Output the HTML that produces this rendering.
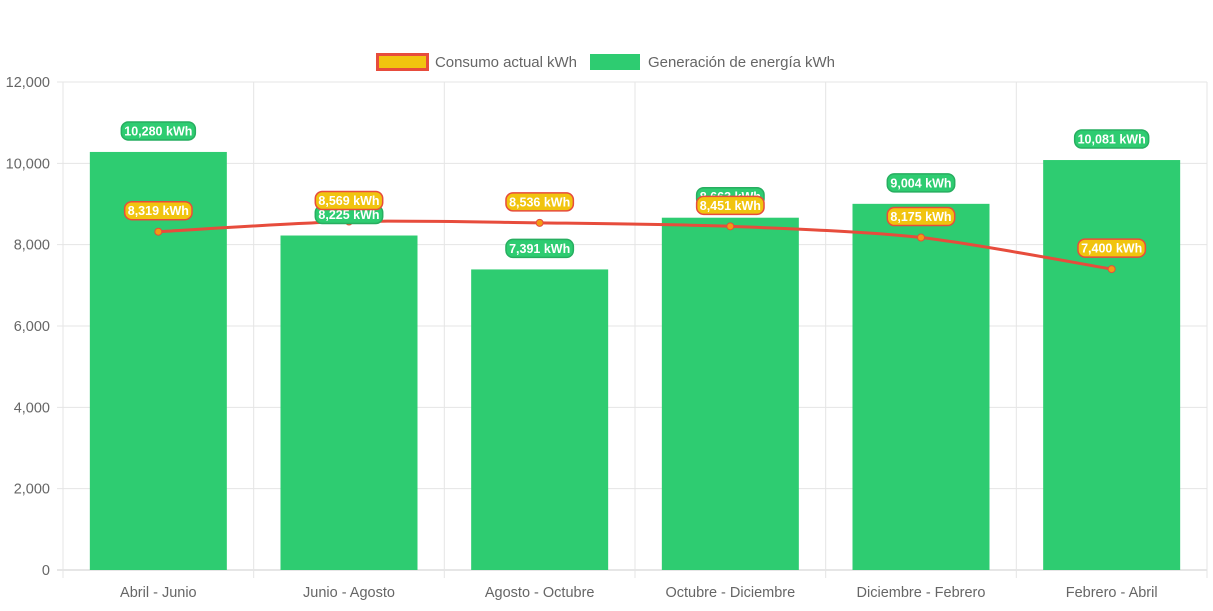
<!DOCTYPE html>
<html><head><meta charset="utf-8"><style>
body{margin:0;background:#fff;font-family:"Liberation Sans",Arial,sans-serif}
svg text{font-family:"Liberation Sans",Arial,sans-serif}
</style></head><body>
<svg id="c" width="1213" height="606"></svg>
<script>
const categories=["Abril - Junio","Junio - Agosto","Agosto - Octubre","Octubre - Diciembre","Diciembre - Febrero","Febrero - Abril"];
const generation=[10280,8225,7391,8663,9004,10081];
const consumption=[8319,8569,8536,8451,8175,7400];
const yTicks=[0,2000,4000,6000,8000,10000,12000];
const NS="http://www.w3.org/2000/svg";
const svg=document.getElementById('c');
const L=63,R=1207,T=82,B=570,yMax=12000;
const bw=(R-L)/categories.length;
const x=i=>L+bw*(i+0.5);
const y=v=>B-(v/yMax)*(B-T);
const fmt=v=>v.toLocaleString('en-US');
function el(t,a,p){const e=document.createElementNS(NS,t);for(const k in a)e.setAttribute(k,a[k]);(p||svg).appendChild(e);return e;}
yTicks.forEach(t=>{
 const g=el('line',{x1:L-6,x2:R,y1:y(t),y2:y(t),stroke:t===0?'#ccc':'#e5e5e5','stroke-width':1});
 
 
 const tx=el('text',{x:50,y:y(t)+5,'text-anchor':'end','font-size':14.5,fill:'#666'});tx.textContent=fmt(t);
 
 
});
for(let i=0;i<=categories.length;i++){
 const g=el('line',{x1:L+bw*i,x2:L+bw*i,y1:T,y2:B+8,stroke:'#e5e5e5','stroke-width':1});
 
 
}
categories.forEach((c,i)=>{
 const tx=el('text',{x:x(i),y:597,'text-anchor':'middle','font-size':14.5,fill:'#666'});tx.textContent=c;
 
 
});
const barW=137;
generation.forEach((v,i)=>{
 const r=el('rect',{x:x(i)-barW/2,y:y(v),width:barW,height:B-y(v),fill:'#2ecc71'});
 
 
});
const pts=consumption.map((v,i)=>[x(i),y(v)]);
let d=`M${pts[0][0]},${pts[0][1]}`;
for(let i=0;i<pts.length-1;i++){
 const p0=pts[i-1]||pts[i],p1=pts[i],p2=pts[i+1],p3=pts[i+2]||p2;
 const k=0.14;
 d+=` C${p1[0]+(p2[0]-p0[0])*k},${p1[1]+(p2[1]-p0[1])*k} ${p2[0]-(p3[0]-p1[0])*k},${p2[1]-(p3[1]-p1[1])*k} ${p2[0]},${p2[1]}`;
}
const ln=el('path',{d:d,fill:'none',stroke:'#e74c3c','stroke-width':3});


pts.forEach(p=>{
 const c=el('circle',{cx:p[0],cy:p[1],r:3.5,fill:'#f39c12',stroke:'#e74c3c','stroke-width':1});
 
 
});
function label(cx,cy,txt,fill,stroke,name){
 const g=el('g',{});
 
 
 const w=txt.length*6.6+8;
 el('rect',{x:cx-w/2,y:cy-9,width:w,height:18,rx:7,fill:fill,stroke:stroke,'stroke-width':1.5},g);
 const t=el('text',{x:cx,y:cy+4.5,'text-anchor':'middle','font-size':12.5,'font-weight':'bold',fill:'#fff'},g);
 t.textContent=txt;
}
generation.forEach((v,i)=>label(x(i),y(v)-21,fmt(v)+' kWh','#2ecc71','#27ae60','generation-value-label'));
consumption.forEach((v,i)=>label(x(i),y(v)-21,fmt(v)+' kWh','#f1c40f','#e74c3c','consumption-value-label'));
const lg1=el('g',{});


el('rect',{x:377.5,y:54.5,width:50,height:15,fill:'#f1c40f',stroke:'#e74c3c','stroke-width':3},lg1);
const t1=el('text',{x:435,y:67,'font-size':15,fill:'#666',textLength:142},lg1);t1.textContent='Consumo actual kWh';
const lg2=el('g',{});


el('rect',{x:590,y:54,width:50,height:16,fill:'#2ecc71'},lg2);
const t2=el('text',{x:648,y:67,'font-size':15,fill:'#666',textLength:187},lg2);t2.textContent='Generación de energía kWh';
</script>
</body></html>
